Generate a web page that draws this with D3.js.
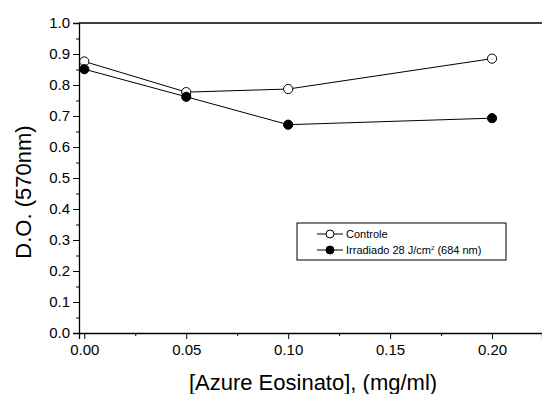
<!DOCTYPE html>
<html>
<head>
<meta charset="utf-8">
<script src="https://cdn.jsdelivr.net/npm/d3@7"></script>
<style>
  body { margin: 0; background: #fff; }
  svg { display: block; font-family: Arial, "Liberation Sans", sans-serif; }
</style>
</head>
<body>
<div id="chart"></div>
<script>
// data
const concentrations = [0.00, 0.05, 0.10, 0.20];
const controle = [0.876, 0.777, 0.787, 0.885];
const irradiado = [0.851, 0.762, 0.672, 0.693];
const xTicks = [0.00, 0.05, 0.10, 0.15, 0.20];
const xMinorTicks = [0.025, 0.075, 0.125, 0.175];
const yTicks = [0.0, 0.1, 0.2, 0.3, 0.4, 0.5, 0.6, 0.7, 0.8, 0.9, 1.0];
const yMinorTicks = [0.05, 0.15, 0.25, 0.35, 0.45, 0.55, 0.65, 0.75, 0.85, 0.95];

const width = 542, height = 394;
const plotLeft = 79, plotTop = 23, plotBottom = 333, plotRight = 542;

const svg = d3.select("#chart").append("svg")
  .attr("width", width)
  .attr("height", height);

const x = d3.scaleLinear().domain([-0.0026, 0.2245]).range([plotLeft, plotRight]);
const y = d3.scaleLinear().domain([0, 1]).range([plotBottom, plotTop]);

// frame: top line only (right side is cropped)
svg.append("line")
  .attr("x1", plotLeft).attr("x2", plotRight)
  .attr("y1", plotTop).attr("y2", plotTop)
  .attr("stroke", "#000").attr("stroke-width", 1.3);

// x axis
svg.append("g")
  .attr("transform", `translate(0,${plotBottom})`)
  .call(d3.axisBottom(x).tickValues(xTicks).tickFormat(d3.format(".2f")).tickSize(6).tickPadding(5));
svg.append("g")
  .attr("transform", `translate(0,${plotBottom})`)
  .call(d3.axisBottom(x).tickValues(xMinorTicks).tickFormat("").tickSize(3))
  .select(".domain").remove();

// y axis
svg.append("g")
  .attr("transform", `translate(${plotLeft},0)`)
  .call(d3.axisLeft(y).tickValues(yTicks).tickFormat(d3.format(".1f")).tickSize(6).tickPadding(3));
svg.append("g")
  .attr("transform", `translate(${plotLeft},0)`)
  .call(d3.axisLeft(y).tickValues(yMinorTicks).tickFormat("").tickSize(3))
  .select(".domain").remove();

svg.selectAll(".domain").attr("stroke", "#000").attr("stroke-width", 1.3);
svg.selectAll(".tick line").attr("stroke", "#000").attr("stroke-width", 1);
svg.selectAll(".tick text")
  .attr("fill", "#000")
  .style("font-size", "15px")
  .style("font-family", "Arial, 'Liberation Sans', sans-serif");

// axis titles
svg.append("text")
  .attr("x", 313)
  .attr("y", 390)
  .attr("text-anchor", "middle")
  .style("font-size", "22px")
  .text("[Azure Eosinato], (mg/ml)");

svg.append("text")
  .attr("transform", "translate(31,192) rotate(-90)")
  .attr("text-anchor", "middle")
  .style("font-size", "22px")
  .text("D.O. (570nm)");

// series
const series = [
  { name: "Controle", values: controle, fill: "#fff" },
  { name: "Irradiado", values: irradiado, fill: "#000" }
];

const line = d3.line()
  .x((d, i) => x(concentrations[i]))
  .y(d => y(d));

series.forEach(s => {
  svg.append("path")
    .datum(s.values)
    .attr("d", line)
    .attr("fill", "none")
    .attr("stroke", "#000")
    .attr("stroke-width", 1);

  svg.selectAll(null)
    .data(s.values)
    .enter()
    .append("circle")
    .attr("cx", (d, i) => x(concentrations[i]))
    .attr("cy", d => y(d))
    .attr("r", 4.6)
    .attr("fill", s.fill)
    .attr("stroke", "#000")
    .attr("stroke-width", 1);
});

// legend
const legend = svg.append("g").attr("transform", "translate(297,223)");
legend.append("rect")
  .attr("width", 209)
  .attr("height", 37)
  .attr("fill", "#fff")
  .attr("stroke", "#000")
  .attr("stroke-width", 1);

const rows = [
  { fill: "#fff", y: 11 },
  { fill: "#000", y: 27 }
];
rows.forEach(r => {
  legend.append("line")
    .attr("x1", 20).attr("x2", 46)
    .attr("y1", r.y).attr("y2", r.y)
    .attr("stroke", "#000").attr("stroke-width", 1);
  legend.append("circle")
    .attr("cx", 33).attr("cy", r.y)
    .attr("r", 4)
    .attr("fill", r.fill)
    .attr("stroke", "#000")
    .attr("stroke-width", 1);
});

legend.append("text")
  .attr("x", 49).attr("y", 14.5)
  .style("font-size", "11px")
  .text("Controle");

const t2 = legend.append("text")
  .attr("x", 49).attr("y", 31)
  .style("font-size", "11px");
t2.append("tspan").text("Irradiado 28 J/cm");
t2.append("tspan").attr("dy", -4).style("font-size", "6px").text("2");
t2.append("tspan").attr("dy", 4).text(" (684 nm)");
</script>
</body>
</html>
